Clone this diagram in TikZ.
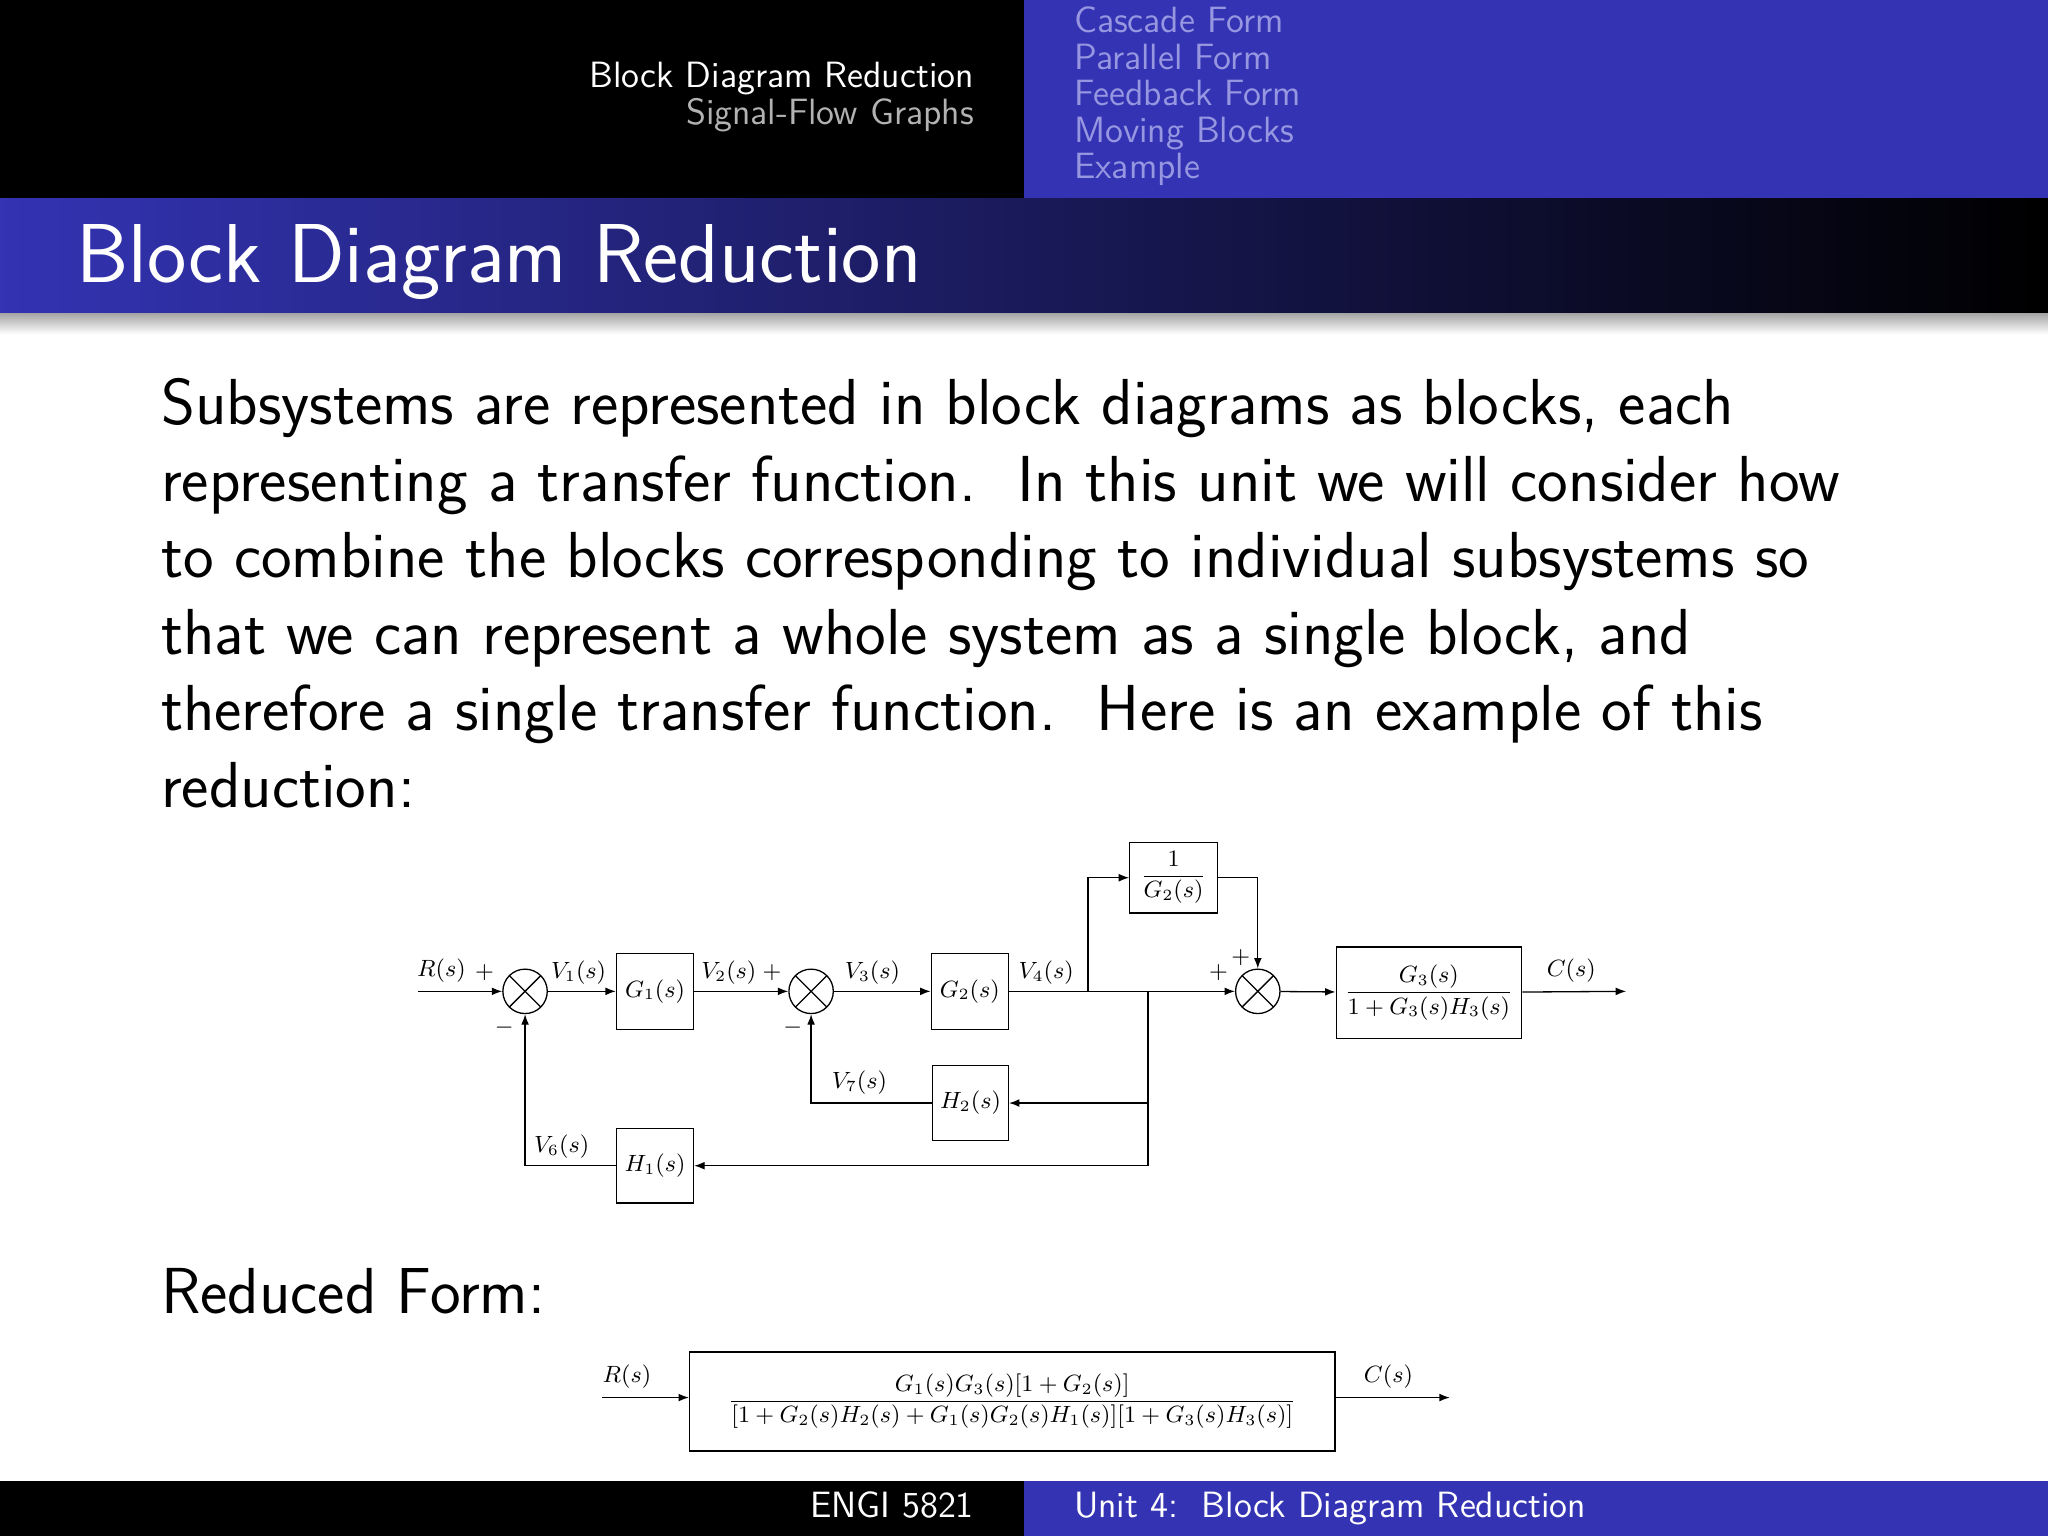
\documentclass[tikz,border=0pt]{standalone}
\usepackage{amsmath}
\usetikzlibrary{arrows.meta}
\definecolor{bblue}{RGB}{51,51,179}
\definecolor{navtxt}{RGB}{150,150,225}
\begin{document}
\begin{tikzpicture}[x=0.5pt,y=-0.5pt,
  dl/.style={font=\fontsize{9}{10}\selectfont,inner sep=0pt},
  blk/.style={draw,line width=0.5pt,fill=white},
  ln/.style={line width=0.5pt},
  ar/.style={ln,-{Latex[length=4pt,width=3pt]}},
  sumj/.style={draw,line width=0.5pt,circle,minimum size=17pt,inner sep=0pt,path picture={\draw[line width=0.5pt] (path picture bounding box.north west)--(path picture bounding box.south east) (path picture bounding box.north east)--(path picture bounding box.south west);}},
  hd/.style={inner sep=0pt,font=\sffamily\fontsize{14}{16}\selectfont},
  body/.style={anchor=base west,inner sep=0pt,font=\sffamily\fontsize{24.9}{28}\selectfont}]
\useasboundingbox (0,0) rectangle (1568,1176);
\fill[black] (0,0) rectangle (784,152);
\fill[bblue] (784,0) rectangle (1568,152);
\node[hd,anchor=base east,white] (h1) at (746,67) {Block Diagram Reduction};
\node[hd,anchor=base east,gray!60] (h2) at (746,95) {Signal-Flow Graphs};
\foreach \t [count=\i] in {Cascade Form,Parallel Form,Feedback Form,Moving Blocks,Example}
  \node[hd,anchor=base west,navtxt] (n\i) at (822,25+28*\i-28) {\t};
\shade[left color=bblue,right color=black] (0,152) rectangle (1568,240);
\shade[top color=black!35,bottom color=white] (0,240) rectangle (1568,256);
\node[anchor=base west,inner sep=0pt,white,font=\sffamily\fontsize{32}{36}\selectfont] (title) at (58,216) {Block Diagram Reduction};
\node[body] (b1) at (123,325) {Subsystems are represented in block diagrams as blocks, each};
\node[body] (b2) at (123,384) {representing a transfer function.\ \ In this unit we will consider how};
\node[body] (b3) at (123,442) {to combine the blocks corresponding to individual subsystems so};
\node[body] (b4) at (123,501) {that we can represent a whole system as a single block, and};
\node[body] (b5) at (123,559) {therefore a single transfer function.\ \ Here is an example of this};
\node[body] (b6) at (123,618) {reduction:};
\node[body] (rf) at (123,1006) {Reduced Form:};
% diagram
\coordinate (rin) at (320,759);
\node[sumj] (s1) at (402,759) {};
\node[sumj] (s2) at (621,759) {};
\node[sumj] (s3) at (963,759) {};
\node[blk,minimum width=29.5pt,minimum height=29pt,dl] (g1) at (501.5,759) {$G_1(s)$};
\node[blk,minimum width=29.5pt,minimum height=29pt,dl] (g2) at (742.5,759) {$G_2(s)$};
\node[blk,minimum width=33.5pt,minimum height=27pt,dl] (ig2) at (898.5,672) {$\dfrac{1}{G_2(s)}$};
\node[blk,minimum width=29pt,minimum height=28.5pt,dl] (h2) at (743,844.5) {$H_2(s)$};
\node[blk,minimum width=29.5pt,minimum height=28.5pt,dl] (h1) at (501.5,892.5) {$H_1(s)$};
\node[blk,minimum width=71pt,minimum height=35pt,dl] (g3) at (1094,760) {$\dfrac{G_3(s)}{1+G_3(s)H_3(s)}$};
\coordinate (cout) at (1245,759);
\coordinate (p1) at (833,759);
\coordinate (p2) at (879,759);
\draw[ar] (rin) -- (s1);
\draw[ar] (s1) -- (g1);
\draw[ar] (g1) -- (s2);
\draw[ar] (s2) -- (g2);
\draw[ar] (g2) -- (s3);
\draw[ar] (p1) |- (ig2);
\draw[ar] (ig2.east) -| (s3);
\draw[ar] (p2) |- (h2);
\draw[ar] (p2) |- (h1);
\draw[ar] (h2) -| (s2);
\draw[ar] (h1) -| (s1);
\draw[ar] (s3) -- (g3);
\draw[ar] (g3) -- (cout);
\node[dl] (lr) at (338,743) {$R(s)$};
\node[dl] (pl1) at (371,745) {$+$};
\node[dl] (mi1) at (386,787) {$-$};
\node[dl] (lv1) at (443,745) {$V_1(s)$};
\node[dl] (lv2) at (558,745) {$V_2(s)$};
\node[dl] (pl2) at (591,745) {$+$};
\node[dl] (mi2) at (607,787) {$-$};
\node[dl] (lv3) at (668,745) {$V_3(s)$};
\node[dl] (lv4) at (801,745) {$V_4(s)$};
\node[dl] (pl3) at (950,733) {$+$};
\node[dl] (pl4) at (933,745) {$+$};
\node[dl] (lc) at (1203,743) {$C(s)$};
\node[dl] (lv7) at (658,829) {$V_7(s)$};
\node[dl] (lv6) at (430,878) {$V_6(s)$};
% reduced
\node[blk,minimum width=247pt,minimum height=38pt,dl] (red) at (775,1073) {$\dfrac{G_1(s)G_3(s)[1+G_2(s)]}{[1+G_2(s)H_2(s)+G_1(s)G_2(s)H_1(s)][1+G_3(s)H_3(s)]}$};
\coordinate (rin2) at (461,1070);
\coordinate (rout2) at (1110,1070);
\draw[ar] (rin2) -- (rin2-|red.west);
\draw[ar] (rout2-|red.east) -- (rout2);
\node[dl] (lr2) at (480,1054) {$R(s)$};
\node[dl] (lc2) at (1063,1054) {$C(s)$};
% footer
\fill[black] (0,1134) rectangle (784,1176);
\fill[bblue] (784,1134) rectangle (1568,1176);
\node[hd,anchor=base east,white] (f1) at (746,1162) {ENGI 5821};
\node[hd,anchor=base west,white] (f2) at (822,1162) {Unit 4:\ \ Block Diagram Reduction};
\end{tikzpicture}
\end{document}
